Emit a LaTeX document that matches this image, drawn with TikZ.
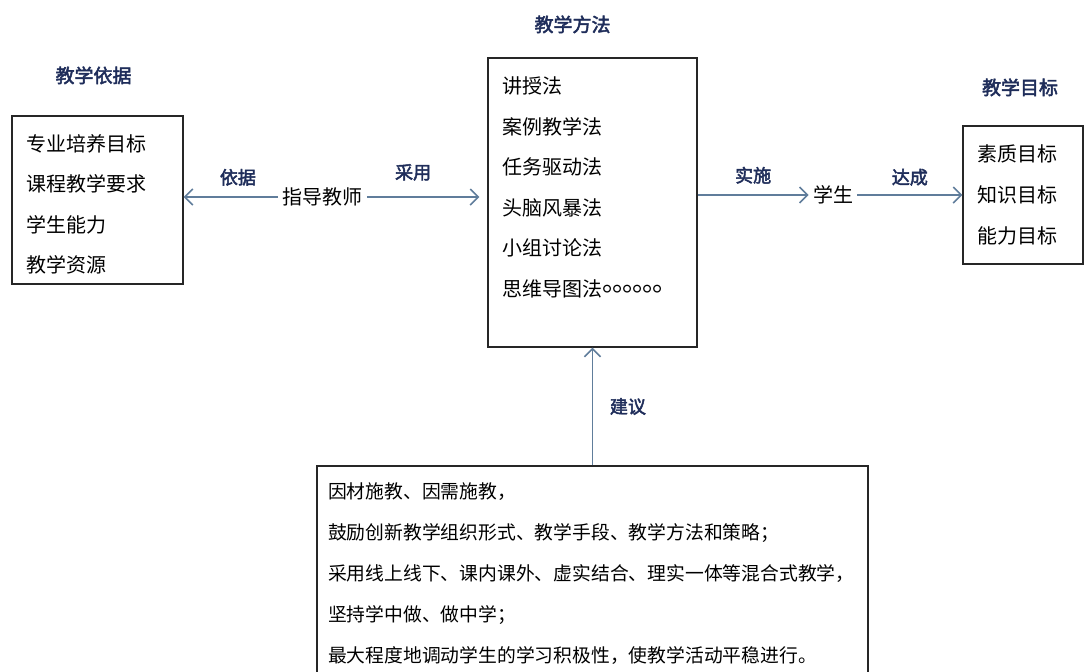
\documentclass[tikz,border=0pt]{standalone}
\usepackage{fontspec}
\setmainfont{Noto Sans CJK SC}[AutoFakeBold=2.5]
\usetikzlibrary{positioning,arrows.meta}

\definecolor{navy}{RGB}{31,45,90}
\definecolor{steel}{RGB}{96,125,155}

\tikzset{
  listbox/.style={draw=black!85, line width=0.7pt, align=left, inner xsep=7pt,
    font=\fontsize{10}{20.3}\selectfont},
  heading/.style={font=\fontsize{9.5}{11}\selectfont\bfseries, text=navy},
  tag/.style={font=\fontsize{9}{10}\selectfont\bfseries, text=navy},
  flow/.style={draw=steel, line width=0.75pt, -{Straight Barb[length=4pt,width=8pt]}},
  person/.style={font=\fontsize{10}{12}\selectfont, inner sep=2pt}
}
\newcommand\ringdot{\makebox[5pt][l]{\raisebox{2.5pt}{\fontsize{13}{13}\selectfont 。}}}
\newcommand\topgap{\rule{0pt}{12.8pt}}

\begin{document}
\begin{tikzpicture}[x=0.5pt, y=-0.5pt]
  \useasboundingbox (0,0) rectangle (1088,671);
  \clip (0,0) rectangle (1088,671);
  %% boxes of the top row
  \node[listbox, text width=71.5pt, minimum height=84pt] (basis) at (97.5,200)
    {\topgap 专业培养目标\\课程教学要求\\学生能力\\教学资源};
  \node[listbox, text width=90.5pt, minimum height=144.5pt] (method) at (592.5,202.5)
    {\topgap 讲授法\\案例教学法\\任务驱动法\\头脑风暴法\\小组讨论法\\思维导图法\ringdot\ringdot\ringdot\ringdot\ringdot\ringdot\\~};
  \node[listbox, text width=46pt, minimum height=69pt] (goal) at (1023,195)
    {素质目标\\知识目标\\能力目标};
  %% the box below runs past the lower edge
  \node[listbox, inner xsep=5.5pt, text width=264.5pt, minimum height=107.5pt,
    font=\fontsize{9.4}{20.4}\selectfont] (advice) at (592.5,573.5)
    {因材施教、因需施教，\\鼓励创新教学组织形式、教学手段、教学方法和策略；\\采用线上线下、课内课外、虚实结合、理实一体等混合式教学，\\坚持学中做、做中学；\\最大程度地调动学生的学习积极性，使教学活动平稳进行。};

  \node[heading, above=12pt of basis, xshift=-2pt] (basis-t) {教学依据};
  \node[heading, above=8.5pt of method, xshift=-10pt] (method-t) {教学方法};
  \node[heading, above=11pt of goal, xshift=-1.5pt] (goal-t) {教学目标};

  \node[person] (teacher) at (322.5,197) {指导教师};
  \node[person] (student) at (833,195) {学生};

  \draw[flow] (teacher.west) -- (teacher.west -| basis.east)
    node[tag, midway, above=2pt, xshift=3.5pt] {依据};
  \draw[flow, shorten >=4pt] (teacher.east) -- (teacher.east -| method.west)
    node[tag, midway, above=4.5pt, xshift=-7pt] {采用};
  \draw[flow] (method.east |- student.west) -- (student.west)
    node[tag, midway, above=2pt] {实施};
  \draw[flow] (student.east) -- (student.east -| goal.west)
    node[tag, midway, above=1pt] {达成};
  \draw[flow] (advice.north) -- (method.south)
    node[tag, midway, right=5pt] {建议};
\end{tikzpicture}
\end{document}
